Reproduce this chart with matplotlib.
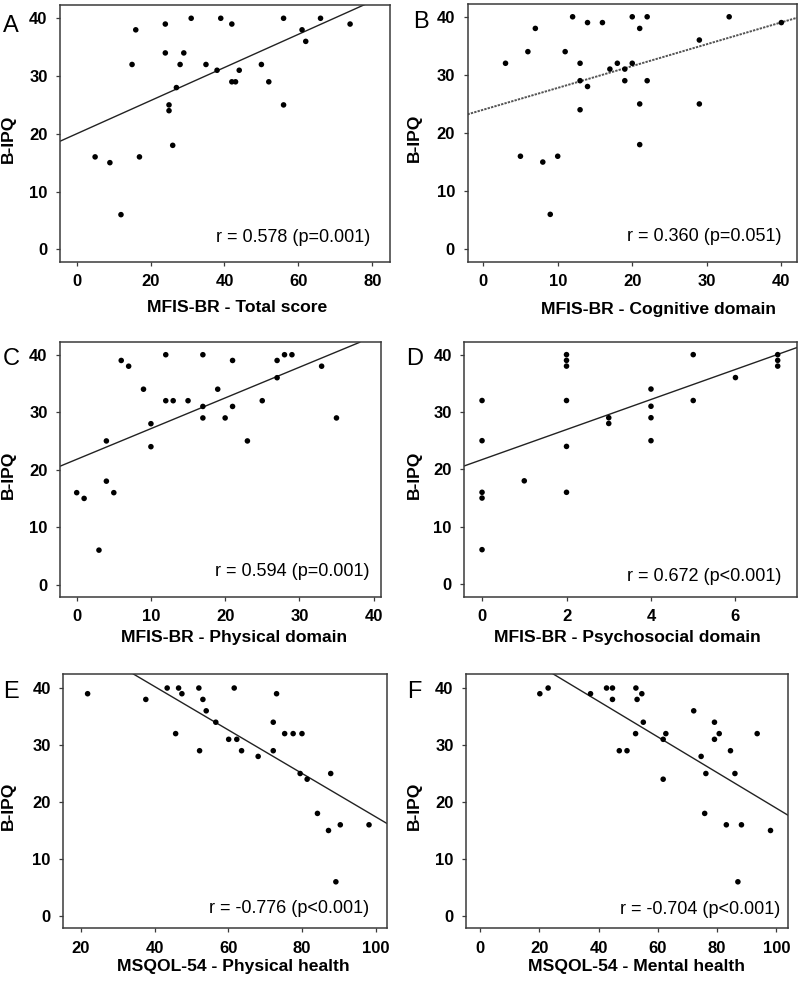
import matplotlib
matplotlib.use("Agg")
import matplotlib.pyplot as plt
import numpy as np

plt.rcParams['font.family'] = ['Liberation Sans', 'DejaVu Sans']

# ---------------- data ----------------
bipq_label = "B-IPQ"
panel_letters = ["A", "B", "C", "D", "E", "F"]
x_labels = ["MFIS-BR - Total score", "MFIS-BR - Cognitive domain",
            "MFIS-BR - Physical domain", "MFIS-BR - Psychosocial domain",
            "MSQOL-54 - Physical health", "MSQOL-54 - Mental health"]
r_texts = ["r = 0.578 (p=0.001)", "r = 0.360 (p=0.051)", "r = 0.594 (p=0.001)",
           "r = 0.672 (p<0.001)", "r = -0.776 (p<0.001)", "r = -0.704 (p<0.001)"]

a_x = [5, 9, 12, 15, 16, 17, 24, 24, 25, 25, 26, 27, 28, 29, 31, 35, 38, 39, 42, 42,
       43, 44, 50, 52, 56, 56, 61, 62, 66, 74]
a_y = [16, 15, 6, 32, 38, 16, 39, 34, 25, 24, 18, 28, 32, 34, 40, 32, 31, 40, 39, 29,
       29, 31, 32, 29, 40, 25, 38, 36, 40, 39]

b_x = [3, 5, 6, 7, 8, 9, 10, 11, 12, 13, 13, 13, 14, 14, 16, 17, 18, 19, 19, 20,
       20, 21, 21, 21, 22, 22, 29, 29, 33, 40]
b_y = [32, 16, 34, 38, 15, 6, 16, 34, 40, 32, 29, 24, 39, 28, 39, 31, 32, 31, 29, 40,
       32, 38, 25, 18, 40, 29, 36, 25, 40, 39]

c_x = [0, 1, 3, 4, 4, 5, 6, 7, 9, 10, 10, 12, 12, 13, 15, 17, 17, 17, 19, 20,
       21, 21, 23, 25, 27, 27, 28, 29, 33, 35]
c_y = [16, 15, 6, 25, 18, 16, 39, 38, 34, 28, 24, 40, 32, 32, 32, 40, 31, 29, 34, 29,
       39, 31, 25, 32, 39, 36, 40, 40, 38, 29]

d_x = [0, 0, 0, 0, 0, 1, 2, 2, 2, 2, 2, 2, 3, 3, 4, 4, 4, 4, 5, 5, 6, 7, 7, 7]
d_y = [32, 25, 16, 15, 6, 18, 40, 39, 38, 32, 24, 16, 29, 28, 34, 31, 29, 25, 40, 32,
       36, 40, 39, 38]

e_x = [21.8, 37.6, 43.4, 45.7, 46.5, 47.4, 52.0, 52.2, 53.1, 54.0, 56.6, 60.1, 61.6,
       62.3, 63.6, 68.1, 72.2, 72.2, 73.1, 75.3, 77.6, 80.0, 79.5, 81.4, 87.8, 84.2,
       87.2, 90.4, 89.2, 98.2]
e_y = [39, 38, 40, 32, 40, 39, 40, 29, 38, 36, 34, 31, 40, 31, 29, 28, 34, 29, 39, 32,
       32, 32, 25, 24, 25, 18, 15, 16, 6, 16]

f_x = [20.2, 23.0, 37.3, 42.7, 44.7, 44.7, 47.0, 49.6, 52.6, 53.0, 52.5, 54.6, 55.1,
       61.8, 62.7, 61.8, 72.1, 74.6, 76.2, 75.8, 79.1, 79.1, 80.7, 84.5, 86.0, 83.1,
       88.2, 87.0, 93.5, 98.0]
f_y = [39, 40, 39, 40, 40, 38, 29, 29, 40, 38, 32, 39, 34, 31, 32, 24, 36, 28, 25, 18,
       34, 31, 32, 29, 25, 16, 16, 6, 32, 15]

# fitted regression lines as drawn in the figure (intercept, slope)
line_intercepts = [20.0, 24.0, 21.8, 21.7, 55.5, 50.2]
line_slopes = [0.287, 0.376, 0.534, 2.62, -0.381, -0.313]

xs = [a_x, b_x, c_x, d_x, e_x, f_x]
ys = [a_y, b_y, c_y, d_y, e_y, f_y]

x_ticks = [[0, 20, 40, 60, 80], [0, 10, 20, 30, 40], [0, 10, 20, 30, 40],
           [0, 2, 4, 6], [20, 40, 60, 80, 100], [0, 20, 40, 60, 80, 100]]
y_ticks = [0, 10, 20, 30, 40]

# ---------------- layout (pixels) ----------------
W, H = 800, 988
boxes = [(60, 390, 4.7, 262), (467.5, 797, 4, 262),
         (60, 381, 342.3, 596.7), (464.3, 796.7, 342.3, 596.7),
         (63.3, 386.7, 674, 928.3), (466, 788.3, 674, 928.3)]
xlims = [(-4.5, 84.8), (-2.1, 42.1), (-2.25, 41.0), (-0.42, 7.45), (15.2, 103.0), (-4.7, 104.0)]
ylims = [(-2.2, 42.35), (-2.2, 42.2), (-2.1, 42.16), (-2.2, 42.15), (-2.16, 42.46), (-2.16, 42.46)]
r_pos = [(0.939, 0.077), (0.954, 0.083), (0.964, 0.081), (0.955, 0.063), (0.946, 0.059), (0.974, 0.056)]
xlab_pos = [(0.538, -0.148), (0.579, -0.154), (0.543, -0.131), (0.491, -0.131), (0.526, -0.121), (0.53, -0.121)]
letter_pos = [(3, 31.7), (413, 28.3), (2.7, 365), (406, 365), (2.7, 698.3), (406.7, 698.3)]
ylab_right = [16, 422, 16, 422, 16, 422]
dashes = ['-', (0, (1.2, 0.6)), '-', '-', '-', '-']

fig = plt.figure(figsize=(W / 100, H / 100), dpi=100)
frame_col = '#3a3a3a'

for i in range(6):
    l, r, t, b = boxes[i]
    ax = fig.add_axes([l / W, 1 - b / H, (r - l) / W, (b - t) / H])
    ax.scatter(xs[i], ys[i], s=16, color='black', edgecolors='none', zorder=3)
    ax.axline((0, line_intercepts[i]), slope=line_slopes[i], color='#222222' if i != 1 else '#555555',
              lw=1.0 if i != 1 else 1.4, linestyle=dashes[i], zorder=2)
    ax.set_xlim(*xlims[i])
    ax.set_ylim(*ylims[i])
    ax.set_xticks(x_ticks[i])
    ax.set_yticks(y_ticks)
    ax.tick_params(direction='out', length=3, width=0.9, color=frame_col, labelsize=12, pad=6,
                   top=False, right=False)
    for lab in ax.get_xticklabels() + ax.get_yticklabels():
        lab.set_fontweight('bold')
    for sp in ax.spines.values():
        sp.set_color(frame_col)
        sp.set_linewidth(1.1)
    ax.set_xlabel(x_labels[i], fontsize=12.6, fontweight='bold')
    ax.xaxis.set_label_coords(*xlab_pos[i])
    ax.set_ylabel(bipq_label, fontsize=12.6, fontweight='bold')
    ax.yaxis.set_label_coords((ylab_right[i] - l) / (r - l), 0.48)
    ax.text(r_pos[i][0], r_pos[i][1], r_texts[i], transform=ax.transAxes,
            ha='right', va='baseline', fontsize=13)
    lx, ly = letter_pos[i]
    fig.text(lx / W, 1 - ly / H, panel_letters[i], ha='left', va='baseline', fontsize=17)

fig.savefig('out.png', dpi=100)
